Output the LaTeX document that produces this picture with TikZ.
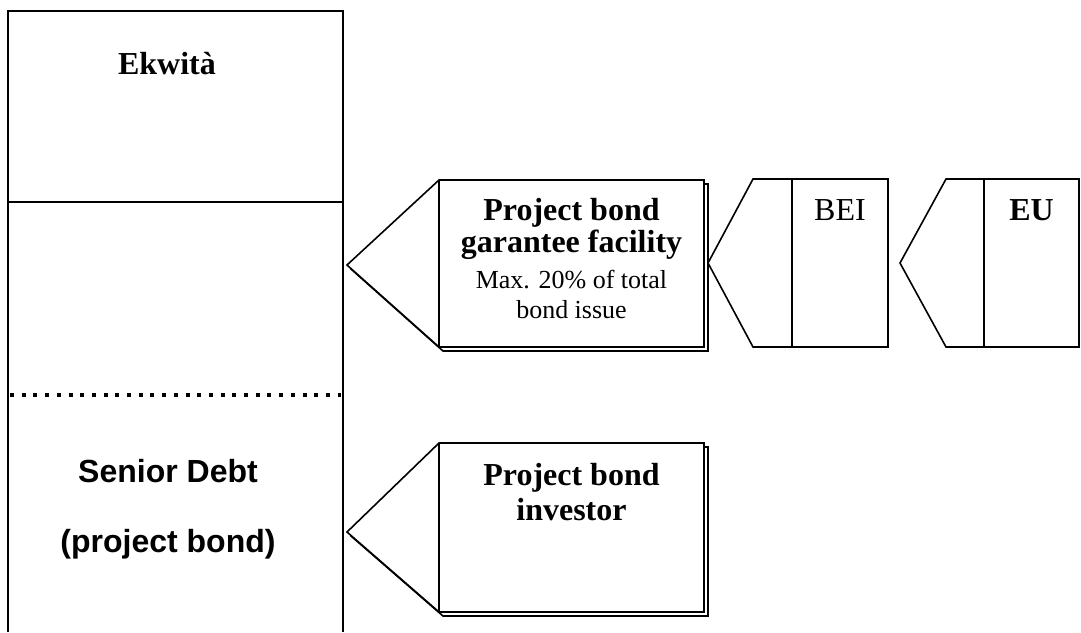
\documentclass[tikz,border=0pt]{standalone}
\usepackage{fontspec}
\setmainfont{Liberation Serif}
\newfontfamily\arialfont{Liberation Sans}

\begin{document}
\begin{tikzpicture}[x=0.5pt,y=-0.5pt,line width=0.8pt,
	tag/.style={inner sep=0pt,anchor=base,align=center}]
		\useasboundingbox (0,0) rectangle (1081,632);

		% left column
		\draw (8,632) -- (8,11) -- (343,11) -- (343,632);
		\draw (8,202) -- (343,202);
		\draw[line width=2pt,dash pattern=on 2pt off 3.85pt] (10,395) -- (341,395);
		\node[tag,font=\fontsize{16}{16}\selectfont\bfseries] (ekwita) at (167,74) {Ekwità};
		% base of a two-line node is its last line
		\node[tag,font=\fontsize{16}{35}\selectfont\arialfont\bfseries] (senior) at (168,552) {Senior Debt\\(project bond)};

		% guarantee facility
		\draw (351,269) -- (443,184) -- (708,184) -- (708,351) -- (443,351) -- cycle;
		\filldraw[fill=white] (347,265) -- (439,180) -- (704,180) -- (704,347) -- (439,347) -- cycle;
		\draw (439,180) -- (439,347);
		\node[tag,font=\fontsize{16}{16}\selectfont\bfseries] (pbgf) at (571.5,252) {Project bond\\garantee facility};
		\node[tag,font=\fontsize{13}{15}\selectfont] (pbgfnote) at (571.5,318) {Max. 20\% of total\\bond issue};

		% BEI and EU
		\draw (708,263) -- (753,179) -- (888,179) -- (888,347) -- (753,347) -- cycle;
		\draw (792,179) -- (792,347);
		\node[tag,font=\fontsize{16}{16}\selectfont] (bei) at (840,220) {BEI};
		\draw (900,263) -- (946,179) -- (1079,179) -- (1079,347) -- (946,347) -- cycle;
		\draw (984,179) -- (984,347);
		\node[tag,font=\fontsize{16}{16}\selectfont\bfseries] (eu) at (1031.5,220) {EU};

		% investor
		\draw (351,536) -- (443,447) -- (708,447) -- (708,616) -- (443,616) -- cycle;
		\filldraw[fill=white] (347,532) -- (439,443) -- (704,443) -- (704,612) -- (439,612) -- cycle;
		\draw (439,443) -- (439,612);
		\node[tag,font=\fontsize{16}{17.5}\selectfont\bfseries] (investor) at (571.5,520) {Project bond\\investor};

	\end{tikzpicture}
\end{document}
